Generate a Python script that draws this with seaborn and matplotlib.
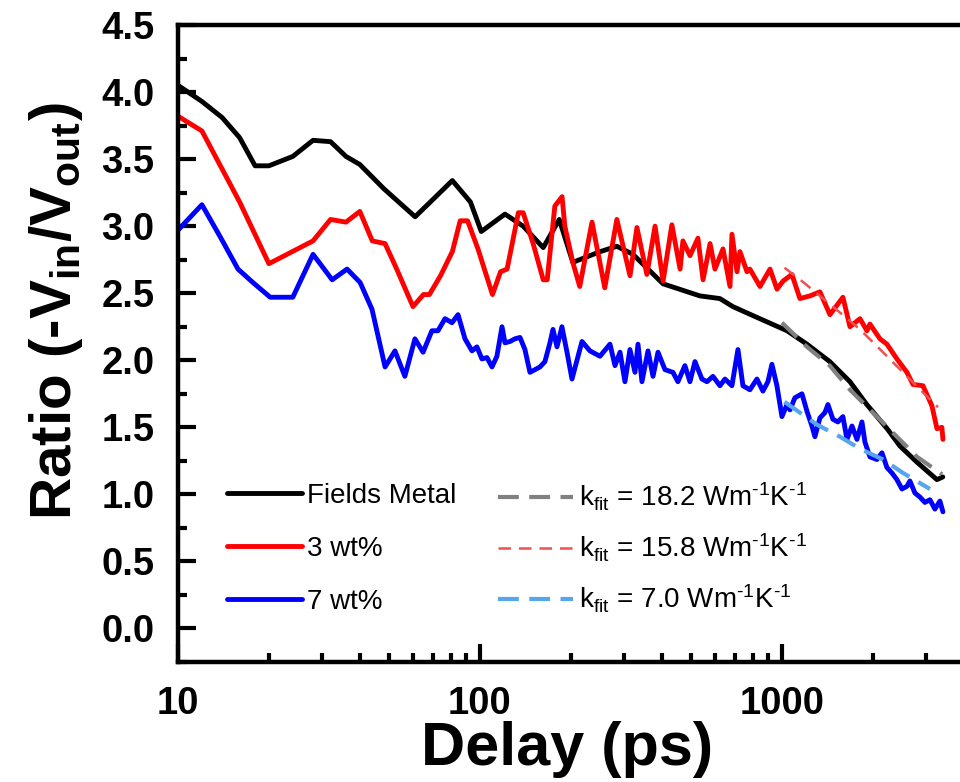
import numpy as np
import pandas as pd
import matplotlib
matplotlib.use("Agg")
import matplotlib.pyplot as plt
from matplotlib.ticker import MultipleLocator, FormatStrFormatter, LogLocator, NullFormatter
import seaborn as sns

# ---- data ----
metal_x = [10, 12, 14, 16, 18, 20, 24, 28, 32, 36, 40, 48, 61, 81, 93, 101, 121, 139, 162,
           183, 203, 250, 284, 321, 404, 535, 623, 688, 845, 1040, 1210, 1440, 1680, 1910,
           2230, 2460, 2800, 3260, 3410]
metal_y = [4.05, 3.93, 3.81, 3.66, 3.45, 3.45, 3.52, 3.64, 3.63, 3.52, 3.46, 3.28, 3.07, 3.34,
           3.18, 2.96, 3.09, 3.00, 2.84, 3.05, 2.73, 2.81, 2.85, 2.79, 2.57, 2.48, 2.46, 2.40,
           2.31, 2.22, 2.12, 1.99, 1.84, 1.67, 1.49, 1.36, 1.24, 1.11, 1.13]

wt3_x = [10, 12, 16, 20, 28, 32, 36, 40, 44, 48.5, 53, 60, 65, 68, 74, 81, 86, 91, 98.5, 110,
         117, 123, 134, 139, 150, 162, 167, 177, 187, 191, 203, 214, 235, 259, 284, 314, 331,
         357, 380, 404, 432, 460, 470, 496, 527, 548, 578, 600, 638, 673, 683, 710, 726, 766,
         783, 846, 913, 963, 1008, 1079, 1147, 1238, 1336, 1442, 1592, 1680, 1813, 1912, 1956,
         2111, 2227, 2403, 2594, 2716, 2931, 3139, 3261, 3386, 3413]
wt3_y = [3.82, 3.71, 3.18, 2.72, 2.89, 3.05, 3.03, 3.11, 2.89, 2.87, 2.68, 2.40, 2.49, 2.49,
         2.63, 2.81, 3.04, 3.04, 2.83, 2.49, 2.66, 2.68, 3.10, 3.10, 2.87, 2.60, 2.60, 3.15,
         3.22, 3.00, 2.73, 2.55, 3.03, 2.54, 3.05, 2.63, 2.99, 2.64, 3.00, 2.59, 3.01, 2.68,
         2.89, 2.78, 2.91, 2.60, 2.87, 2.68, 2.83, 2.55, 2.94, 2.66, 2.81, 2.66, 2.68, 2.55,
         2.68, 2.53, 2.59, 2.64, 2.46, 2.48, 2.51, 2.34, 2.47, 2.25, 2.31, 2.22, 2.27, 2.16,
         2.12, 2.01, 1.91, 1.82, 1.81, 1.66, 1.49, 1.50, 1.41]

wt7_x = [10, 12, 13.8, 15.8, 17.7, 20.2, 24, 28, 32.4, 36.3, 40.1, 43.9, 48.5, 52.3, 56.4, 60.9,
         64.8, 69.3, 72.6, 76.6, 80.8, 84.6, 89.2, 94.1, 97.7, 101.5, 105.5, 109.6, 113.8,
         118.3, 121, 125.7, 130.6, 135.7, 140.9, 146.4, 152.1, 158, 164.1, 170.5, 174.5, 179.9,
         186.8, 194.2, 201.7, 217.7, 231.3, 249.7, 269.5, 280, 290.9, 302.1, 313.8, 326.1,
         333.7, 343.9, 360.1, 374.1, 388.6, 409.9, 435.6, 452.4, 477.2, 495.9, 515.2, 543.4,
         564.5, 591, 623.3, 647.5, 683, 715, 742.8, 783.4, 826.4, 865.1, 898.6, 926.5, 962.5,
         1000, 1039, 1063, 1104, 1165, 1210, 1257, 1286, 1336, 1388, 1420, 1475, 1532, 1592,
         1642, 1706, 1772, 1841, 1883, 1956, 2063, 2144, 2227, 2313, 2403, 2497, 2594, 2653,
         2757, 2864, 2975, 3091, 3211, 3335, 3413]
wt7_y = [2.97, 3.16, 2.92, 2.68, 2.58, 2.47, 2.47, 2.79, 2.60, 2.68, 2.58, 2.38, 1.95, 2.07,
         1.88, 2.16, 2.06, 2.22, 2.22, 2.31, 2.28, 2.34, 2.16, 2.07, 2.10, 2.01, 2.02, 1.95,
         2.03, 2.25, 2.13, 2.14, 2.16, 2.17, 2.08, 1.91, 1.93, 1.95, 1.99, 2.13, 2.23, 2.10,
         2.25, 2.06, 1.86, 2.14, 2.07, 2.03, 2.12, 1.96, 2.06, 1.84, 2.08, 1.91, 2.12, 1.84,
         2.07, 1.88, 2.06, 1.93, 1.91, 1.84, 1.96, 1.84, 1.99, 1.86, 1.84, 1.88, 1.81, 1.86,
         1.81, 2.08, 1.81, 1.78, 1.86, 1.77, 1.84, 1.97, 1.81, 1.58, 1.67, 1.63, 1.72, 1.75,
         1.62, 1.51, 1.43, 1.57, 1.61, 1.67, 1.56, 1.54, 1.58, 1.41, 1.51, 1.41, 1.54, 1.39,
         1.28, 1.26, 1.31, 1.20, 1.16, 1.11, 1.04, 1.06, 1.10, 1.01, 0.98, 0.94, 0.96, 0.89,
         0.95, 0.87]

# thermal-model fits
fit_metal_x = [1000, 1210, 1440, 1680, 2000, 2330, 2800, 3390]
fit_metal_y = [2.28, 2.10, 1.96, 1.78, 1.61, 1.46, 1.28, 1.15]
fit_wt3_x = [1020, 1180, 1475, 1813, 2160, 2516, 2931, 3286]
fit_wt3_y = [2.69, 2.58, 2.40, 2.23, 2.06, 1.91, 1.76, 1.65]
fit_wt7_x = [1020, 1306, 1556, 1813, 2160, 2516, 3091]
fit_wt7_y = [1.69, 1.52, 1.43, 1.34, 1.26, 1.16, 1.04]

labels = ["Fields Metal", "3 wt%", "7 wt%"]
fit_labels = [r"k$_{\mathrm{fit}}$ = 18.2 Wm$^{\text{-1}}$K$^{\text{-1}}$",
              r"k$_{\mathrm{fit}}$ = 15.8 Wm$^{\text{-1}}$K$^{\text{-1}}$",
              r"k$_{\mathrm{fit}}$ = 7.0 Wm$^{\text{-1}}$K$^{\text{-1}}$"]

# ---- style ----
sns.set_theme(style="ticks")
plt.rcParams["font.family"] = ["Liberation Sans", "DejaVu Sans"]
plt.rcParams["mathtext.fontset"] = "custom"
plt.rcParams["mathtext.rm"] = "Liberation Sans"
plt.rcParams["mathtext.it"] = "Liberation Sans"
plt.rcParams["mathtext.bf"] = "Liberation Sans:bold"
for key in ["text.color", "axes.labelcolor", "xtick.color", "ytick.color", "axes.edgecolor"]:
    plt.rcParams[key] = "black"

fig = plt.figure(figsize=(9.6, 7.82), dpi=100)
ax = fig.add_axes([178 / 960, 120 / 782, 815 / 960, 637 / 782])

# measured curves
lw = 3.5
sns.lineplot(x=metal_x, y=metal_y, ax=ax, color="black", lw=lw, label=labels[0], sort=False)
sns.lineplot(x=wt3_x, y=wt3_y, ax=ax, color="#ff0000", lw=lw, label=labels[1], sort=False)
sns.lineplot(x=wt7_x, y=wt7_y, ax=ax, color="#0000ff", lw=lw, label=labels[2], sort=False)

# fits
sns.lineplot(x=fit_metal_x, y=fit_metal_y, ax=ax, color="#808080", lw=3,
             linestyle=(0, (5, 2.5)), label=fit_labels[0], sort=False)
sns.lineplot(x=fit_wt3_x, y=fit_wt3_y, ax=ax, color="#f05050", lw=1.8,
             linestyle=(0, (5, 3.2)), label=fit_labels[1], sort=False)
sns.lineplot(x=fit_wt7_x, y=fit_wt7_y, ax=ax, color="#55a6ee", lw=3,
             linestyle=(0, (5, 2.5)), label=fit_labels[2], sort=False)

# axes
ax.set_xscale("log")
ax.set_xlim(10, 5000)
ax.set_ylim(-0.25, 4.5)
ax.yaxis.set_major_locator(MultipleLocator(0.5))
ax.yaxis.set_minor_locator(MultipleLocator(0.25))
ax.yaxis.set_major_formatter(FormatStrFormatter("%.1f"))
ax.xaxis.set_major_locator(LogLocator(base=10, numticks=10))
ax.xaxis.set_minor_locator(LogLocator(base=10, subs=np.arange(2, 10), numticks=20))
ax.xaxis.set_major_formatter(FormatStrFormatter("%d"))
ax.xaxis.set_minor_formatter(NullFormatter())

for sp in ax.spines.values():
    sp.set_linewidth(3.2)
    sp.set_color("black")

ax.tick_params(which="both", direction="in", width=3, color="black",
               top=False, right=False)
ax.tick_params(which="major", length=13, pad=17, labelsize=27.5)
ax.tick_params(which="minor", length=6.5)
for t in ax.get_xticklabels() + ax.get_yticklabels():
    t.set_fontweight("bold")

ax.set_xlabel("Delay (ps)", fontsize=44, fontweight="bold")
ax.set_ylabel(r"Ratio (-V$_\mathbf{in}$/V$_\mathbf{out}$)", fontsize=42, fontweight="bold")
ax.xaxis.set_label_coords(0.477, -0.093)
ax.yaxis.set_label_coords(-0.114, 0.551)

# legends: measured on the left, fits on the right
handles, labs = ax.get_legend_handles_labels()
leg_kw = dict(frameon=False, fontsize=20, handlelength=2.7, handletextpad=0.2,
              borderpad=0, borderaxespad=0, loc="upper left")
leg1 = ax.legend(handles[:3], labs[:3], bbox_to_anchor=(0.060, 0.281),
                 labelspacing=0.97, **leg_kw)
ax.add_artist(leg1)
ax.legend(handles[3:], labs[3:], bbox_to_anchor=(0.3926, 0.284),
          labelspacing=0.67, **leg_kw)

fig.savefig("out.png", dpi=100)
